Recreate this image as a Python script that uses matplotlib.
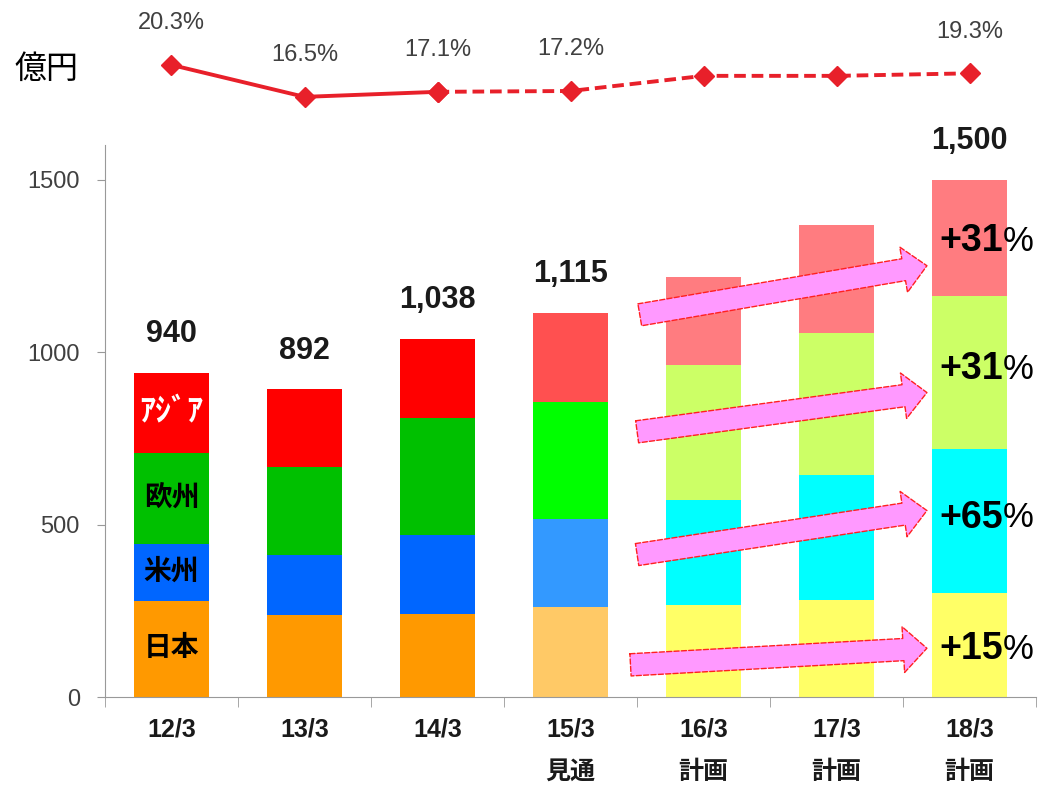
import matplotlib
matplotlib.use("Agg")
import matplotlib.pyplot as plt
from matplotlib.patches import FancyArrowPatch, ArrowStyle

plt.rcParams['font.family'] = ['Liberation Sans', 'Noto Sans CJK JP', 'DejaVu Sans']

# data (億円)
years = ['12/3', '13/3', '14/3', '15/3\n見通', '16/3\n計画', '17/3\n計画', '18/3\n計画']
japan = [278, 238, 241, 262, 267, 281, 301]
americas = [165, 174, 229, 254, 304, 362, 419]
europe = [264, 255, 339, 339, 391, 412, 444]
asia = [233, 225, 229, 260, 255, 313, 336]
totals = ['940', '892', '1,038', '1,115', '', '', '1,500']

margin = [20.3, 16.5, 17.1, 17.2, 19.0, 19.0, 19.3]
margin_labels = ['20.3%', '16.5%', '17.1%', '17.2%', '', '', '19.3%']

region_names = ['日本', '米州', '欧州', 'ｱｼﾞｱ']
growth = ['+15', '+65', '+31', '+31']

# colours per period: actual / forecast / plan
japan_c = ['#FF9900'] * 3 + ['#FFC966'] + ['#FFFF66'] * 3
americas_c = ['#0066FF'] * 3 + ['#3399FF'] + ['#00FFFF'] * 3
europe_c = ['#00C000'] * 3 + ['#00FF00'] + ['#CCFF66'] * 3
asia_c = ['#FF0000'] * 3 + ['#FF5050'] + ['#FF7C80'] * 3

fig = plt.figure(figsize=(10.54, 7.85), dpi=100)
ax = fig.add_axes([0.0996, 0.112, 0.8834, 0.703])

x = list(range(len(years)))
w = 0.56
bottom = [0] * len(x)
layers = [(japan, japan_c), (americas, americas_c), (europe, europe_c), (asia, asia_c)]
for vals, cols in layers:
    ax.bar(x, vals, w, bottom=bottom, color=cols, linewidth=0)
    bottom = [b + v for b, v in zip(bottom, vals)]

# totals above bars
for xi, top, lab in zip(x, bottom, totals):
    if lab:
        ax.annotate(lab, (xi, top), xytext=(0, 28), textcoords='offset points',
                    ha='center', va='center', fontsize=22, fontweight='bold',
                    color='#1a1a1a')

# region names in first bar
b = 0
for vals, name in zip([japan, americas, europe, asia], region_names):
    col = 'white' if name == 'ｱｼﾞｱ' else 'black'
    fs = 23 if name == 'ｱｼﾞｱ' else 20
    ax.text(0, b + vals[0] / 2, name, ha='center', va='center', fontsize=fs,
            fontweight='bold', color=col)
    b += vals[0]

ax.set_xlim(-0.5, 6.5)
ax.set_ylim(0, 1600)
ax.set_yticks([0, 500, 1000, 1500])
ax.tick_params(axis='y', labelsize=17, labelcolor='#404040', color='#999999',
               length=6, pad=12)
ax.set_xticks(x)
ax.set_xticklabels(years, fontsize=18, fontweight='bold', color='#1a1a1a',
                   linespacing=1.95, va='top')
ax.tick_params(axis='x', which='major', length=0, pad=15)
ax.set_xticks([i - 0.5 for i in range(len(x) + 1)], minor=True)
ax.tick_params(axis='x', which='minor', length=7, color='#999999')
for s in ['top', 'right']:
    ax.spines[s].set_visible(False)
ax.spines['left'].set_color('#999999')
ax.spines['bottom'].set_color('#999999')

# growth arrows (tail -> tip, data coords)
arrow_pos = [((3.43, 93), (5.7, 142)), ((3.48, 412), (5.7, 542)),
             ((3.48, 768), (5.7, 884)), ((3.5, 1107), (5.7, 1252))]
label_y = [138, 520, 950, 1322]
style = ArrowStyle('Simple', head_length=1.7, head_width=3.3, tail_width=1.6)
for (p0, p1), g, ly in zip(arrow_pos, growth, label_y):
    arr = FancyArrowPatch(p0, p1, arrowstyle=style, mutation_scale=10,
                          facecolor='#FF99FF', edgecolor='#FF2020',
                          linestyle='--', linewidth=1.0, zorder=5)
    ax.add_patch(arr)
    ax.text(6.25, ly, g, ha='right', va='center', fontsize=27,
            fontweight='bold', color='black', zorder=6)
    ax.text(6.25, ly, '%', ha='left', va='center', fontsize=25,
            color='black', zorder=6)

# operating margin line on top
ax2 = fig.add_axes([0.0996, 0.860, 0.8834, 0.0892])
ax2.set_xlim(-0.5, 6.5)
ax2.set_ylim(14.95, 23.28)
ax2.axis('off')
red = '#E8202A'
ax2.plot(x[:3], margin[:3], color=red, linewidth=2.8, marker='D',
         markersize=10)
ax2.plot(x[2:], margin[2:], color=red, linewidth=2.8, linestyle=(0, (3, 1.5)),
         marker='D', markersize=10)
for xi, m, lab in zip(x, margin, margin_labels):
    if lab:
        ax2.annotate(lab, (xi, m), xytext=(0, 30), textcoords='offset points',
                     ha='center', va='center', fontsize=17, color='#404040',
                     annotation_clip=False)

fig.text(0.044, 0.911, '億円', ha='center', va='center', fontsize=23,
         color='black')

fig.savefig('out.png', dpi=100)
